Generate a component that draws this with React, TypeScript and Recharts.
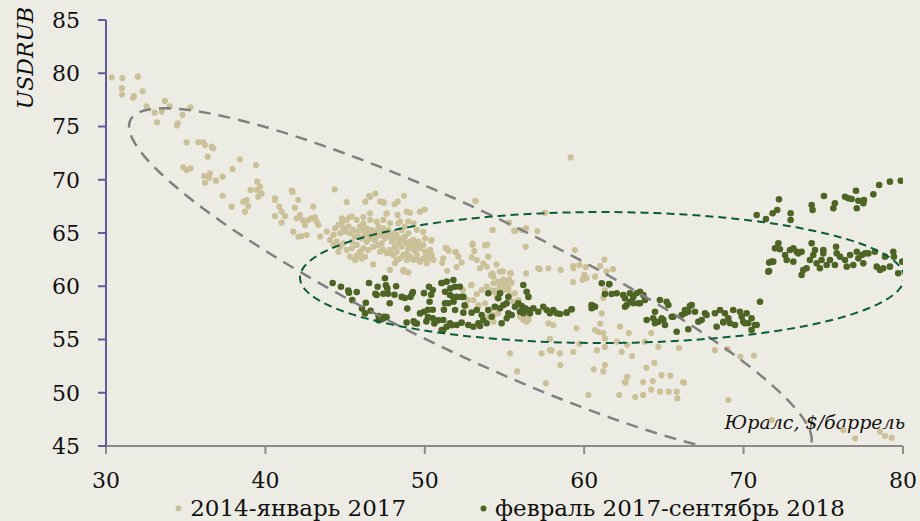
import { ScatterChart, Scatter, XAxis, YAxis, Legend } from 'recharts'

// 2014 - январь 2017, [Юралс $/барр, USDRUB]
const early: [number, number][] = [
  [30.36, 79.62], [31.02, 79.55], [32.0, 79.68], [31.0, 78.6], [31.0, 78.0], [31.7, 77.7], [31.75, 77.85], [32.3, 78.3],
  [32.55, 76.9], [33.05, 76.3], [33.5, 76.4], [33.2, 75.4], [33.7, 77.4], [34.0, 76.9], [34.45, 75.1], [34.5, 75.3],
  [34.8, 76.1], [35.3, 76.8],
  [35.06, 73.51], [35.79, 73.51], [36.1, 73.51], [36.21, 73.26], [36.63, 73.11], [36.73, 72.95], [36.38, 72.17],
  [34.85, 71.16], [35.06, 70.91], [35.31, 71.07], [36.15, 70.35], [36.52, 70.6], [36.48, 70.19], [36.21, 69.72],
  [36.9, 69.91], [37.32, 70.29], [37.32, 68.5], [37.94, 71.01], [38.4, 71.92], [39.41, 71.38], [39.49, 69.82],
  [39.07, 69.04], [39.66, 69.35], [39.45, 69.04], [39.76, 68.72], [39.55, 68.41], [38.61, 67.94], [38.82, 68.1],
  [38.93, 67.53], [38.72, 67.0], [37.88, 67.47], [40.6, 68.25], [40.6, 68.1], [40.87, 67.47], [41.02, 67.0],
  [41.23, 66.59], [40.6, 66.59], [41.02, 65.97], [41.65, 68.97], [41.71, 68.85], [42.06, 68.1], [41.85, 67.38],
  [42.17, 66.69], [41.96, 66.38], [42.34, 66.22], [42.48, 65.75], [43.0, 67.47], [42.69, 66.22], [42.9, 66.38],
  [43.11, 66.47], [43.21, 66.06], [43.32, 65.75], [41.75, 65.12], [42.06, 64.65], [42.27, 64.72], [42.59, 64.81],
  [44.34, 69.1], [45.1, 67.9], [46.27, 67.94], [46.56, 68.4], [46.9, 68.7], [47.44, 67.85], [47.6, 66.8], [48.1, 67.7], [48.3, 67.95],
  [44.37, 65.44], [44.58, 65.76], [44.79, 65.91], [44.89, 65.44], [44.68, 64.97], [45.0, 65.13], [45.21, 65.6], [45.31, 64.97],
  [45.52, 65.29], [45.63, 64.66], [45.83, 65.13], [45.94, 65.6], [46.15, 65.29], [46.25, 64.82], [46.04, 64.5], [46.36, 65.44],
  [46.46, 64.97], [46.57, 64.5], [46.67, 65.29], [46.88, 65.13], [46.98, 64.66], [47.09, 65.6], [47.19, 65.13], [47.3, 64.82],
  [47.4, 65.44], [47.51, 64.5], [47.61, 64.97], [47.72, 65.29], [47.82, 64.66], [47.93, 64.19], [48.03, 64.97], [48.13, 64.5],
  [48.24, 64.82], [48.34, 64.03], [48.45, 64.5], [48.55, 63.72], [48.66, 64.35], [48.76, 64.66], [48.87, 64.03], [48.97, 63.56],
  [49.08, 64.19], [49.18, 63.88], [49.28, 64.35], [49.39, 63.41], [49.49, 63.88], [49.6, 64.19], [49.7, 63.56], [49.91, 63.88],
  [50.02, 63.25], [50.12, 62.94], [50.23, 62.63], [50.33, 63.41], [50.43, 62.94], [50.54, 62.47], [44.47, 64.19], [44.68, 63.72],
  [44.89, 64.03], [45.1, 63.41], [45.42, 63.56], [45.73, 63.88], [45.94, 63.25], [46.15, 63.56], [46.25, 62.78], [46.46, 63.41],
  [46.78, 63.72], [47.09, 63.88], [47.19, 63.25], [47.4, 63.41], [47.61, 63.1], [47.82, 63.41], [48.03, 62.94], [48.24, 63.25],
  [48.45, 62.63], [48.66, 62.94], [48.87, 63.1], [49.08, 62.78], [49.28, 62.47], [49.49, 62.94], [49.7, 62.31], [49.91, 62.63],
  [50.12, 62.16], [47.82, 61.53], [48.13, 62.16], [48.66, 61.53], [48.87, 62.47], [45.31, 62.78], [45.63, 62.47], [45.94, 62.94],
  [44.58, 63.25], [45.42, 64.19], [45.83, 64.66], [46.36, 64.19], [46.88, 64.35], [47.3, 64.03], [48.13, 63.72], [48.55, 65.29],
  [48.97, 64.97], [48.34, 65.91], [47.82, 65.91], [47.4, 66.23], [46.98, 66.07], [46.57, 66.23], [46.15, 65.91], [45.73, 66.23],
  [45.42, 66.54], [45.1, 66.23], [44.79, 66.38], [44.27, 64.82], [44.27, 63.88], [44.06, 64.35], [43.43, 64.66], [43.85, 65.13],
  [45.3, 66.5], [46.14, 66.5], [46.56, 66.85], [47.2, 67.95], [46.5, 68.5], [47.4, 67.9], [48.7, 68.5], [47.6, 66.85],
  [48.3, 66.7], [49.07, 66.9], [49.7, 67.0], [50.0, 67.2], [48.86, 67.0], [48.45, 66.1], [48.96, 66.1], [49.3, 65.9],
  [48.75, 65.6], [49.5, 65.3], [49.9, 65.1], [50.4, 64.3], [50.01, 64.5], [50.43, 64.34], [45.73, 62.9], [46.04, 62.6],
  [46.77, 62.05], [47.8, 63.1], [48.24, 62.45], [48.86, 62.6], [48.75, 61.4], [49.3, 63.4], [49.6, 62.45], [50.2, 62.6],
  [48.65, 61.4], [48.97, 61.3],
  [51.37, 63.56], [51.48, 63.34], [51.16, 62.62], [51.9, 63.24], [52.1, 62.78], [52.31, 62.22], [53.0, 63.87], [52.94, 62.72],
  [53.26, 62.46], [53.46, 61.69], [53.67, 62.15], [53.88, 61.84], [54.24, 61.22], [54.3, 60.9], [54.61, 60.43], [54.93, 60.65],
  [55.35, 61.22], [55.45, 60.34], [54.3, 60.28], [55.24, 59.81], [53.78, 63.87], [53.98, 62.78], [54.72, 61.37], [51.3, 63.6],
  [51.96, 63.2], [51.1, 62.2], [52.0, 61.8], [51.4, 61.45], [53.1, 63.3], [53.9, 63.9], [53.0, 64.0], [54.5, 62.05],
  [54.9, 61.4], [55.4, 61.2], [56.35, 61.2], [57.2, 61.6], [52.9, 60.1], [52.4, 59.65], [52.7, 58.7], [52.6, 58.1],
  [53.04, 58.71], [53.57, 59.65], [53.88, 59.96], [54.3, 59.49], [54.51, 59.0], [54.72, 59.81], [54.93, 60.12], [55.24, 59.65],
  [55.35, 59.18], [55.55, 58.55], [55.87, 58.71], [56.29, 56.99], [56.39, 56.67], [56.5, 57.14], [53.36, 58.08], [54.3, 57.93],
  [53.98, 57.14], [53.36, 58.24], [53.78, 58.4], [54.4, 58.08], [54.3, 57.3], [54.3, 56.67], [54.61, 57.46], [55.35, 57.3],
  [55.97, 57.14], [56.18, 56.83], [56.5, 56.83], [52.94, 60.12], [53.26, 59.27], [54.09, 59.65], [54.4, 59.58], [55.03, 59.65],
  [55.66, 59.34],
  [56.33, 63.71], [56.08, 65.28], [56.35, 65.44], [55.66, 65.21], [57.06, 65.19], [57.54, 66.91], [55.28, 65.97], [54.24, 65.28],
  [53.15, 68.03], [59.42, 63.4], [59.32, 61.69], [59.7, 62.0], [60.0, 61.06], [60.15, 60.75], [60.68, 60.9], [58.52, 61.53],
  [57.75, 61.69], [57.12, 61.69], [61.27, 62.5], [59.3, 61.9], [60.1, 61.8], [61.0, 61.9], [61.8, 61.6], [61.4, 61.4],
  [59.3, 60.4], [59.9, 60.6], [54.15, 61.05], [54.7, 60.1], [55.1, 60.3], [55.3, 60.6], [57.75, 56.52], [58.06, 56.36],
  [59.52, 56.05], [60.68, 55.89], [57.85, 55.05], [55.35, 53.7], [57.33, 53.7], [57.85, 54.0], [58.48, 53.7], [59.32, 53.85],
  [59.7, 54.6], [58.5, 52.6], [55.8, 52.0], [57.6, 50.9], [57.96, 53.95], [61.1, 57.45], [61.0, 56.5], [60.9, 55.7],
  [61.3, 54.3], [60.8, 54.0], [61.2, 58.9], [62.25, 56.2], [62.8, 55.6], [62.7, 54.5], [62.05, 54.8], [62.35, 53.85],
  [63.0, 53.45], [60.6, 52.2], [61.2, 52.0], [61.3, 52.6], [62.55, 51.0], [62.7, 51.5], [61.3, 59.65], [61.2, 55.6],
  [61.3, 55.1], [60.26, 49.79], [62.2, 49.79], [59.15, 72.1], [53.2, 68.0], [54.26, 65.3], [55.6, 65.2],
  [63.8, 54.8], [64.2, 55.6], [64.65, 54.3], [65.95, 54.2], [63.9, 52.35], [64.4, 52.8], [62.6, 50.95], [63.7, 51.0],
  [64.3, 51.1], [64.85, 51.65], [65.4, 51.6], [66.2, 51.0], [64.2, 50.3], [64.75, 50.1], [65.3, 50.1], [65.8, 50.1],
  [63.2, 49.6], [63.7, 49.8], [65.84, 49.48], [66.26, 50.94], [68.2, 54.0], [69.0, 54.1], [69.8, 53.4], [70.65, 53.5],
  [69.04, 49.32], [71.76, 47.44], [76.26, 46.5], [77.0, 45.72], [78.56, 46.35], [78.87, 45.94], [79.29, 45.78],
]

// февраль 2017 - сентябрь 2018
const late: [number, number][] = [
  [44.22, 60.3], [44.74, 59.95], [45.2, 59.6], [45.24, 59.4], [45.73, 59.45], [45.45, 58.7], [46.3, 58.45], [46.06, 57.9],
  [46.25, 57.45], [46.6, 57.7], [47.1, 56.8], [47.4, 57.0], [47.6, 57.1], [46.5, 60.3], [47.04, 59.95], [47.56, 60.1],
  [47.65, 59.8], [47.5, 60.75], [47.7, 59.3], [47.4, 59.3], [46.9, 59.3], [48.2, 60.0], [48.1, 59.2], [48.55, 59.0],
  [48.75, 58.9], [49.2, 59.3], [49.25, 59.45], [49.1, 59.0], [47.8, 58.4], [48.9, 57.9], [48.86, 56.6], [49.3, 56.7],
  [49.5, 56.5], [49.7, 57.45], [49.95, 57.6], [50.2, 57.8], [50.5, 57.8], [50.2, 57.1], [50.5, 57.0], [50.85, 56.8],
  [50.1, 56.7], [50.6, 56.5], [49.95, 59.35], [50.26, 59.95], [50.5, 59.65], [50.4, 59.2], [50.3, 58.55], [47.1, 57.2],
  [47.3, 56.9], [47.44, 57.14], [46.98, 59.18], [49.39, 56.52],
  [51.05, 60.3], [51.6, 59.8], [51.8, 58.55], [51.2, 57.8], [51.7, 56.35], [52.5, 58.2], [52.3, 59.0], [51.16, 55.9],
  [51.06, 60.3], [51.37, 60.43], [51.79, 60.59], [51.9, 59.96], [52.2, 59.96], [51.27, 59.49], [51.58, 59.18], [51.79, 58.96],
  [52.0, 59.0], [52.42, 59.0], [51.27, 58.4], [51.48, 58.4], [51.9, 57.77], [52.42, 57.52], [52.94, 57.52], [53.26, 57.77],
  [53.57, 57.3], [53.67, 56.83], [53.36, 56.52], [53.88, 56.52], [54.2, 57.14], [53.98, 57.77], [54.4, 58.08], [54.72, 57.93],
  [54.93, 58.24], [55.14, 58.4], [55.24, 57.46], [55.45, 57.3], [55.14, 56.99], [54.82, 56.52], [55.66, 58.08], [55.87, 58.4],
  [56.08, 58.14], [56.29, 57.93], [56.5, 57.77], [56.6, 57.46], [56.18, 57.46], [55.97, 57.61], [56.81, 57.93], [57.12, 57.61],
  [57.43, 58.08], [57.65, 57.77], [57.85, 57.46], [58.06, 57.77], [58.27, 57.46], [58.48, 57.4], [58.9, 57.52], [59.21, 57.84],
  [56.18, 60.12], [56.39, 59.49], [56.5, 59.0], [54.72, 59.34], [54.61, 58.87], [53.98, 59.34], [55.24, 59.0], [51.16, 56.83],
  [51.58, 56.52], [52.0, 56.36], [52.31, 56.58], [52.73, 56.36], [53.04, 56.2], [53.46, 56.27], [51.06, 55.89], [51.37, 56.2],
  [60.46, 58.24], [60.68, 58.08],
  [61.1, 60.28], [61.57, 60.21], [61.3, 59.27], [61.72, 59.27], [62.04, 59.34], [62.45, 59.18], [62.56, 58.87], [62.67, 58.24],
  [62.87, 58.55], [63.08, 59.0], [63.29, 59.34], [63.5, 59.49], [63.71, 59.18], [63.81, 58.71], [63.4, 58.4], [62.87, 59.34],
  [64.75, 58.71], [65.17, 58.55], [65.28, 58.24], [63.92, 56.83], [64.33, 56.99], [64.44, 56.52], [64.65, 56.67], [64.97, 56.83],
  [65.07, 56.36], [64.86, 56.99], [65.49, 57.14], [65.8, 55.73], [66.12, 57.3], [66.32, 57.77], [66.53, 57.61], [66.74, 58.24],
  [66.95, 57.61], [66.53, 55.96], [67.16, 56.67], [67.37, 56.83], [67.58, 57.46], [67.68, 57.3], [68.2, 57.46], [68.31, 56.2],
  [68.52, 57.77], [68.83, 57.46], [68.73, 56.67], [69.04, 56.99], [69.15, 56.52], [69.35, 57.77], [69.46, 56.36], [69.77, 57.61],
  [69.88, 57.14], [70.19, 57.46], [69.98, 56.67], [70.29, 56.52], [70.5, 56.99], [70.71, 56.36], [70.5, 55.89], [71.03, 58.55],
  [61.57, 60.18], [62.56, 58.08], [63.08, 58.4], [63.5, 58.4], [64.44, 57.61], [65.59, 57.14], [66.32, 57.46], [66.63, 58.14],
  [68.73, 56.6], [70.08, 56.52], [70.82, 56.36], [60.57, 58.14], [60.47, 57.93], [59.21, 57.84], [58.9, 57.52],
  [70.82, 66.69], [71.4, 66.31], [71.82, 66.85], [72.11, 67.16], [72.22, 68.16], [72.95, 66.85], [72.95, 66.22], [74.27, 67.63],
  [74.33, 67.16], [75.04, 68.47], [75.63, 67.32], [75.73, 67.79], [76.36, 68.41], [76.57, 68.26], [76.78, 68.19], [77.05, 68.97],
  [77.2, 68.03], [77.1, 67.32], [77.51, 67.79], [77.55, 68.1], [78.14, 68.63], [78.5, 69.51], [79.18, 69.82], [79.86, 69.91],
  [71.55, 61.37], [71.76, 62.31], [71.6, 61.43], [71.6, 62.22], [71.86, 62.31], [71.97, 63.56], [72.18, 64.03], [72.28, 63.47],
  [72.6, 62.93], [72.7, 62.46], [72.91, 63.4], [73.12, 63.56], [73.12, 62.31], [73.33, 63.24], [73.43, 63.09], [73.64, 63.24],
  [73.74, 61.53], [73.64, 61.06], [73.95, 61.69], [74.16, 62.46], [74.27, 64.03], [74.37, 62.93], [74.48, 63.4], [74.58, 62.15],
  [74.79, 61.69], [74.89, 62.46], [75.0, 63.4], [75.0, 63.09], [75.21, 62.0], [75.42, 62.46], [75.73, 62.0], [75.8, 63.71],
  [75.84, 63.09], [76.05, 62.78], [76.36, 62.46], [76.47, 61.84], [76.68, 62.93], [76.88, 62.0], [77.1, 63.24], [77.2, 62.62],
  [77.41, 62.93], [77.51, 62.15], [77.62, 63.09], [77.83, 63.09], [78.24, 63.24], [78.35, 61.84], [78.56, 61.53], [78.76, 61.69],
  [78.87, 62.78], [79.18, 61.84], [79.39, 63.24], [79.43, 62.78], [79.7, 61.22], [79.95, 62.31],
]

const seriesNames = ['2014-январь 2017', 'февраль 2017-сентябрь 2018']
const xTicks = [30, 40, 50, 60, 70, 80]
const yTicks = [45, 50, 55, 60, 65, 70, 75, 80, 85]

// annotation ellipses: centre and two conjugate half-axes, in data units
const grayEllipse = { cx: 52.86, cy: 60.31, ux: 21.33, uy: -15.29, vx: -1.9, vy: -5.93 }
const greenEllipse = { cx: 61.12, cy: 60.82, ux: 18.95, uy: 0, vx: 0, vy: 6.15 }

type Ellipse = typeof grayEllipse

const outline = (e: Ellipse) =>
  Array.from({ length: 181 }, (_, i) => {
    const t = (i / 180) * Math.PI * 2
    return {
      x: e.cx + e.ux * Math.cos(t) + e.vx * Math.sin(t),
      y: e.cy + e.uy * Math.cos(t) + e.vy * Math.sin(t),
    }
  })

const toPoints = (rows: [number, number][]) => rows.map(([x, y]) => ({ x, y }))

const LIGHT = '#cbc199'
const DARK = '#4e6425'
const FONT = '"DejaVu Serif", serif'

const dot = (fill: string, r: number) => (props: any) =>
  <circle cx={props.cx} cy={props.cy} r={r} fill={fill} />

const noDot = () => <g />

const renderLegend = (props: any) => {
  const items = (props.payload || []).filter((p: any) => p.type !== 'none')
  return (
    <div
      style={{
        display: 'flex',
        justifyContent: 'center',
        alignItems: 'center',
        height: 26,
        paddingLeft: 100,
        gap: 74,
        fontFamily: FONT,
        fontSize: 23,
        color: '#111',
      }}
    >
      {items.map((item: any) => (
        <span key={item.value} style={{ display: 'flex', alignItems: 'center', gap: 8 }}>
          <svg width={7} height={7}>
            <circle cx={3.5} cy={3.5} r={3} fill={item.color} />
          </svg>
          {item.value}
        </span>
      ))}
    </div>
  )
}

export default function App() {
  return (
    <div
      style={{
        position: 'absolute',
        left: 0,
        top: 0,
        width: 920,
        height: 521,
        background: '#edece4',
      }}
    >
      <ScatterChart width={920} height={521} margin={{ top: 20, right: 17, bottom: 0, left: 0 }}>
        <XAxis
          type="number"
          dataKey="x"
          domain={[30, 80]}
          ticks={xTicks}
          allowDataOverflow
          height={49}
          axisLine={{ stroke: '#8a8a8a', strokeWidth: 2 }}
          tickLine={{ stroke: '#8a8a8a', strokeWidth: 2 }}
          tickSize={8}
          tickMargin={18}
          tick={{ fill: '#111', fontSize: 22, fontFamily: FONT }}
          label={({ viewBox }: any) => (
            <text
              x={viewBox.x + viewBox.width + 2}
              y={viewBox.y - 17}
              textAnchor="end"
              fontFamily={FONT}
              fontStyle="italic"
              fontSize={19}
              fill="#111"
            >
              Юралс, $/баррель
            </text>
          )}
        />
        <YAxis
          type="number"
          dataKey="y"
          domain={[45, 85]}
          ticks={yTicks}
          allowDataOverflow
          width={106}
          axisLine={{ stroke: '#5c5c98', strokeWidth: 2 }}
          tickLine={{ stroke: '#5c5c98', strokeWidth: 2 }}
          tickSize={8}
          tickMargin={18}
          tick={{ fill: '#111', fontSize: 22, fontFamily: FONT }}
          label={() => (
            <text
              x={33}
              y={58}
              transform="rotate(-90 33 58)"
              textAnchor="middle"
              fontFamily={FONT}
              fontStyle="italic"
              fontSize={22}
              fill="#111"
            >
              USDRUB
            </text>
          )}
        />
        <Scatter
          name={seriesNames[0]}
          data={toPoints(early)}
          fill={LIGHT}
          shape={dot(LIGHT, 3.1)}
          isAnimationActive={false}
        />
        <Scatter
          name={seriesNames[1]}
          data={toPoints(late)}
          fill={DARK}
          shape={dot(DARK, 3.3)}
          isAnimationActive={false}
        />
        <Scatter
          data={outline(grayEllipse)}
          line={{ stroke: '#808080', strokeWidth: 2.5, strokeDasharray: '12 8' }}
          shape={noDot}
          legendType="none"
          isAnimationActive={false}
        />
        <Scatter
          data={outline(greenEllipse)}
          line={{ stroke: '#0a5c38', strokeWidth: 2, strokeDasharray: '8 5' }}
          shape={noDot}
          legendType="none"
          isAnimationActive={false}
        />
        <Legend
          verticalAlign="bottom"
          content={renderLegend}
          wrapperStyle={{ left: 0, width: 920 }}
        />
      </ScatterChart>
    </div>
  )
}
